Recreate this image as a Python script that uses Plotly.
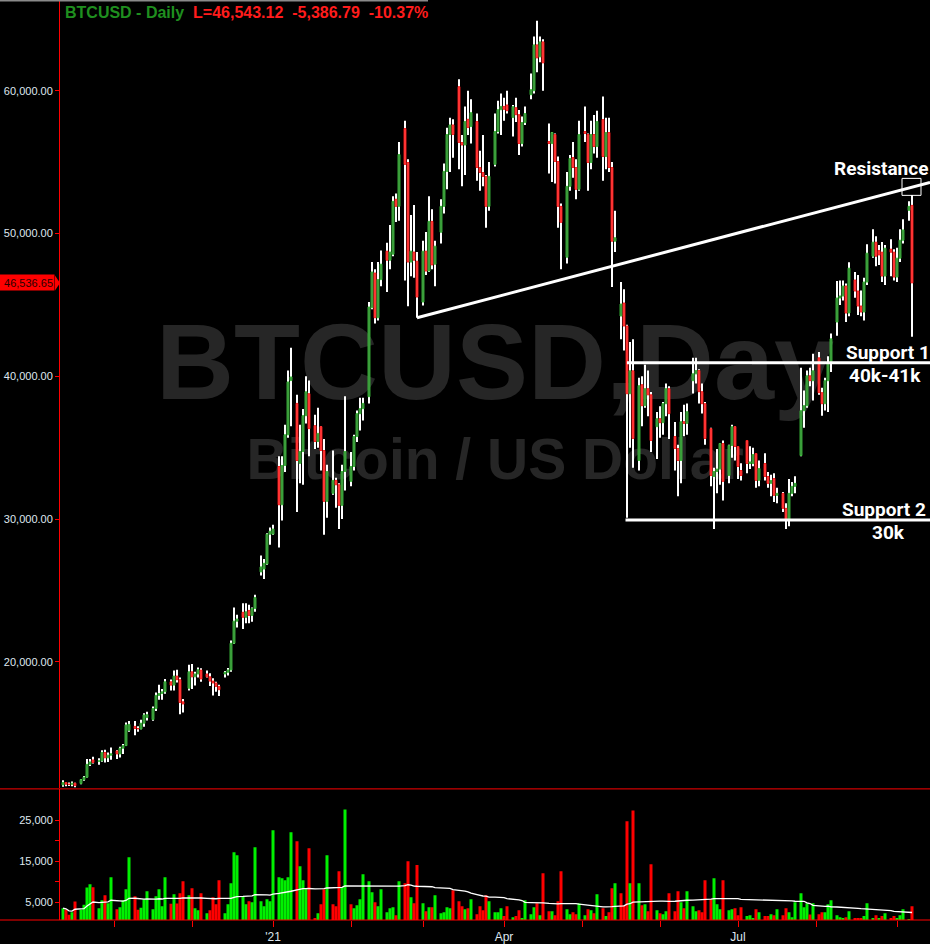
import pandas as pd
import plotly.graph_objects as go

# BTCUSD daily bars, weekdays only (Oct 12 2020 .. Sep 7 2021)
dates = pd.bdate_range("2020-10-12", "2021-09-07")

opens = [
    11380, 11550, 11430, 11420, 11500,   # Oct 12
    11480, 11750, 11920, 12820, 13130,   # Oct 19
    13030, 13070, 13650, 13280, 13460,   # Oct 26
    13760, 13550, 13950, 14130, 15200,   # Nov 2
    15480, 15330, 15300, 15700, 16100,   # Nov 9
    15960, 16730, 17650, 17780, 17900,   # Nov 16
    18600, 18370, 19000, 18750, 17200,   # Nov 23
    18150, 19300, 18950, 19150, 19420,   # Nov 30
    19150, 18950, 18650, 18520, 18280,   # Dec 7
    19150, 19270, 19430, 21300, 22850,   # Dec 14
    23470, 23120, 23600, 23250, 23730,   # Dec 21
    26300, 26500, 26860, 28940, 28950,   # Dec 28
    33680, 31000, 33750, 35900, 39700,   # Jan 4
    38100, 33900, 34730, 37240, 38780,   # Jan 11
    36540, 35430, 36470, 34800, 31240,   # Jan 18
    31800, 32710, 32400, 30960, 33330,   # Jan 25
    32640, 33680, 35780, 37380, 37730,   # Feb 1
    38570, 44800, 47230, 44100, 46770,   # Feb 8
    48760, 48130, 48550, 52400, 51900,   # Feb 15
    57350, 54970, 48000, 48700, 48060,   # Feb 22
    45200, 48760, 47370, 50850, 47850,   # Mar 1
    50090, 51900, 54350, 56930, 57600,   # Mar 8
    60280, 56370, 56200, 58000, 57490,   # Mar 15
    57840, 54620, 54270, 54000, 51900,   # Mar 22
    54840, 57140, 58670, 58900, 59000,   # Mar 29
    58120, 58810, 58320, 56300, 57770,   # Apr 5
    59720, 60000, 63210, 62370, 63420,   # Apr 12
    56440, 56300, 56930, 55040, 51900,   # Apr 19
    48340, 53300, 55320, 54620, 53090,   # Apr 26
    57140, 56930, 54970, 56930, 56090,   # May 3
    57980, 55390, 57070, 54620, 49460,   # May 10
    44220, 45130, 43520, 38780, 40380,   # May 17
    34100, 39410, 37940, 39130, 38700,   # May 24
    36470, 37030, 36750, 38080, 39130,   # May 31
    35780, 34940, 34100, 36820, 36700,   # Jun 7
    39690, 40170, 40400, 38920, 38080,   # Jun 14
    36330, 32980, 33330, 33500, 35290,   # Jun 21
    33050, 35150, 36470, 35080, 33400,   # Jun 28
    35500, 33890, 33890, 34590, 32710,   # Jul 5
    33890, 32980, 32500, 32840, 31660,   # Jul 12
    31800, 30750, 29910, 31800, 32290,   # Jul 19
    34450, 37590, 37940, 40030, 39690,   # Jul 26
    41290, 38850, 38080, 39690, 40900,   # Aug 2
    43800, 45480, 45620, 46320, 44430,   # Aug 9
    46740, 45970, 44920, 44500, 46600,   # Aug 16
    48410, 49390, 48800, 48690, 47020,   # Aug 23
    48900, 48690, 46950, 48270, 49530,   # Aug 30
    51620, 51970,                        # Sep 6
]

highs = [
    11700, 11560, 11550, 11620, 11540,
    11800, 12000, 13200, 13200, 13350,
    13250, 13800, 13850, 13650, 14000,
    13820, 14050, 14250, 15750, 15850,
    15850, 15480, 15950, 16400, 16500,
    16880, 17860, 18390, 18100, 18800,
    18760, 19400, 19450, 18900, 17400,
    19800, 19850, 19300, 19600, 19550,
    19400, 19200, 18850, 18600, 18400,
    19350, 19570, 21500, 23800, 23300,
    24100, 24100, 24000, 23800, 24700,
    27450, 27200, 29000, 29400, 29600,
    34400, 34400, 36600, 40400, 42000,
    38700, 36600, 37700, 40000, 39700,
    37300, 37800, 36500, 35600, 33800,
    34800, 32900, 32500, 33800, 38600,
    34700, 35900, 37600, 38500, 38500,
    45200, 48000, 47500, 48000, 48800,
    49350, 50600, 52600, 52800, 56400,
    57900, 55200, 51300, 52000, 48700,
    49500, 50100, 52600, 51700, 49500,
    52400, 54900, 57400, 58100, 58000,
    60800, 56900, 58900, 60000, 59400,
    58400, 55800, 56900, 54100, 55000,
    58400, 59300, 59800, 59500, 60000,
    59000, 59500, 58650, 58200, 58900,
    61200, 63800, 64900, 63800, 63600,
    57700, 57100, 57000, 55400, 52100,
    54300, 55500, 56400, 55200, 57900,
    58900, 57000, 57900, 58300, 58600,
    59600, 58100, 58100, 55000, 51600,
    46600, 46100, 43600, 42400, 42600,
    39900, 40000, 40800, 40400, 38900,
    37500, 37900, 38200, 39500, 39300,
    36800, 35200, 37500, 38000, 38100,
    41300, 41300, 40500, 39500, 38200,
    36400, 33600, 34900, 35300, 35500,
    35200, 36600, 36500, 35100, 33900,
    35500, 35100, 35000, 34600, 34100,
    34600, 33300, 33100, 33200, 32200,
    31900, 31100, 32800, 32600, 33000,
    40600, 39000, 40400, 40600, 41570,
    41700, 39200, 39900, 41400, 43000,
    46670, 46700, 46700, 46500, 47990,
    47300, 47100, 46000, 46900, 49250,
    50300, 49800, 49200, 49400, 49200,
    49600, 48900, 49000, 50300, 51000,
    52250, 52700,
]

lows = [
    11250, 11280, 11300, 11280, 11220,
    11420, 11680, 11900, 12700, 12880,
    12800, 13000, 12950, 12990, 13150,
    13200, 13300, 13550, 14100, 15100,
    14850, 15100, 15270, 15450, 15900,
    15870, 16560, 17350, 17350, 17760,
    18000, 18000, 18560, 16330, 16450,
    18000, 18100, 18350, 18900, 18600,
    18900, 18300, 17650, 17900, 17600,
    18900, 19050, 19300, 21250, 22400,
    22300, 22700, 22700, 22800, 23500,
    26050, 25800, 26800, 28200, 28900,
    28000, 29900, 33300, 35700, 36500,
    30500, 32500, 32400, 36700, 34400,
    34900, 35000, 33400, 28900, 30100,
    31700, 30800, 29300, 30000, 32000,
    32300, 33400, 35400, 36200, 36900,
    38100, 44700, 43700, 43900, 46300,
    45900, 47500, 48400, 50800, 50900,
    46700, 44900, 47000, 46900, 44100,
    44950, 47100, 47300, 47500, 46300,
    49300, 51400, 53100, 54300, 55300,
    54500, 53300, 54100, 56900, 56300,
    53700, 53000, 53300, 50400, 51600,
    54700, 57000, 56900, 57900, 58400,
    56800, 57800, 55500, 56100, 57600,
    59400, 59800, 61300, 62000, 60000,
    54200, 53600, 53500, 50400, 47500,
    47900, 53000, 53900, 52400, 53000,
    56400, 53000, 54500, 55600, 55300,
    53700, 54500, 54300, 46250, 48700,
    42600, 41800, 30100, 35000, 33600,
    33400, 36500, 37800, 37200, 34700,
    34200, 35700, 35900, 37200, 35600,
    33400, 31600, 32500, 35800, 35900,
    38800, 39500, 38100, 37400, 35200,
    32300, 29300, 31800, 32400, 31300,
    32500, 34300, 34100, 32800, 32700,
    33200, 33500, 33700, 32200, 32300,
    32700, 32200, 31600, 31200, 31100,
    30500, 29300, 29500, 31600, 31800,
    34400, 36400, 37800, 39300, 38300,
    38700, 37240, 37600, 37500, 40300,
    42830, 45000, 45300, 43800, 44200,
    45500, 44300, 44200, 43900, 46400,
    48300, 47700, 47800, 46600, 46400,
    47000, 46700, 46600, 48000, 49300,
    50900, 42760,
]

closes = [
    11550, 11430, 11420, 11500, 11330,
    11750, 11920, 12820, 12990, 12950,
    13070, 13650, 13280, 13460, 13560,
    13550, 13950, 14130, 15580, 15620,
    15330, 15300, 15700, 16280, 16300,
    16730, 17650, 17780, 17900, 18600,
    18370, 19000, 18750, 17150, 17050,
    19300, 18950, 19150, 19450, 18800,
    18950, 18650, 18520, 18280, 18050,
    19270, 19430, 21300, 22850, 23000,
    23120, 23500, 23250, 23730, 24500,
    26650, 26900, 28940, 29150, 29300,
    31000, 33750, 35900, 39600, 39950,
    34100, 34730, 37240, 38910, 36330,
    35430, 36000, 34800, 31240, 33330,
    32710, 32400, 30960, 33330, 34730,
    33680, 35780, 37380, 37730, 38100,
    44850, 47300, 44100, 46770, 47850,
    48130, 48700, 52250, 51900, 55530,
    54840, 48000, 48760, 48130, 45550,
    48760, 47370, 50850, 47800, 49110,
    51900, 54350, 56930, 57600, 56930,
    56370, 56200, 57840, 57420, 58460,
    54620, 54270, 54000, 51900, 54000,
    57140, 58670, 58900, 58700, 58600,
    58880, 58320, 56300, 57770, 58400,
    60070, 63210, 62300, 63420, 61950,
    56300, 57070, 55040, 51900, 50780,
    53300, 55250, 54620, 53090, 56930,
    57000, 54970, 56930, 56090, 57840,
    55390, 57070, 54620, 49460, 49700,
    45060, 43520, 38780, 40380, 35640,
    39340, 37940, 39130, 38700, 35500,
    37030, 36750, 38080, 39130, 37380,
    34940, 34100, 36820, 36700, 37520,
    40170, 40400, 38920, 38080, 35640,
    33050, 33330, 33500, 35290, 32640,
    35150, 36470, 35080, 33680, 33050,
    33890, 34000, 34520, 32710, 33540,
    32980, 32500, 32700, 31660, 31800,
    30750, 29910, 31800, 32290, 32500,
    37590, 37940, 40030, 39690, 40380,
    38850, 38080, 39690, 40900, 42620,
    45480, 45620, 46320, 44430, 47570,
    45970, 44920, 44500, 46600, 48620,
    49390, 48410, 48500, 47020, 48970,
    48690, 46950, 48270, 49530, 50250,
    51900, 46543,
]

volumes = [
    3540, 3200, 1900, 2560, 5170,
    3120, 4340, 8570, 9380, 8650,
    3540, 5490, 6710, 4760, 11100,
    3290, 3780, 5490, 8170, 15980,
    6460, 3120, 3620, 5740, 7690,
    3290, 6460, 8170, 4020, 11100,
    4600, 6950, 4680, 7200, 10130,
    6710, 8410, 3540, 3050, 7200,
    2320, 3050, 6220, 4510, 10370,
    2320, 4510, 9630, 17200, 16470,
    6460, 4510, 5240, 5000, 18420,
    5240, 4020, 5740, 5240, 22570,
    11100, 10860, 10370, 11100, 22080,
    19890, 13790, 10370, 8410, 18180,
    1100, 2320, 4510, 8170, 16470,
    4510, 4020, 12560, 8650, 27660,
    4510, 3540, 4270, 5740, 11840,
    10130, 7440, 5000, 4020, 8170,
    2560, 3540, 3780, 1830, 10130,
    9630, 15000, 6220, 4760, 14060,
    4760, 2800, 3780, 3780, 6710,
    2320, 2560, 3780, 3540, 7930,
    5240, 4020, 3290, 3540, 5740,
    2070, 4020, 3050, 6710, 5240,
    2560, 2560, 3540, 1590, 4020,
    1340, 1590, 3050, 1100, 5490,
    2070, 3780, 4760, 1830, 12090,
    2800, 2800, 1830, 5240, 12560,
    3290, 2070, 2560, 2070, 4760,
    1830, 3290, 3050, 2320, 6950,
    3540, 1590, 2560, 8410, 9630,
    7200, 4270, 24760, 9630, 27440,
    9630, 4270, 4510, 2800, 14300,
    3050, 2320, 2070, 2800, 7200,
    2800, 7690, 5000, 3540, 7690,
    4020, 2800, 3050, 2560, 10370,
    5730, 10860, 4510, 3290, 10370,
    3050, 3290, 3540, 1830, 3780,
    1590, 1830, 1100, 3290, 2560,
    1590, 1590, 2070, 1830, 3290,
    1830, 3540, 2560, 1340, 5000,
    7200, 3780, 4760, 2000, 4760,
    2070, 2560, 2560, 4510, 5490,
    1830, 1340, 1100, 1340, 2800,
    1100, 1100, 1100, 1590, 4760,
    1100, 1830, 1100, 1590, 2320,
    1100, 1590, 1100, 1830, 3290,
    860, 4020,
]

month_ticks = ["2020-11-01", "2020-12-01", "2021-01-01", "2021-02-01", "2021-03-01",
               "2021-04-01", "2021-05-02", "2021-06-01", "2021-07-01", "2021-08-01",
               "2021-09-01"]
month_labels = ["", "", "'21", "", "", "Apr", "", "", "Jul", "", ""]

price_ticks = [20000, 30000, 40000, 50000, 60000]
vol_ticks = [5000, 10000, 15000, 20000, 25000]
vol_labels = ["5,000", "", "15,000", "", "25,000"]

assert len(dates) == len(opens) == len(highs) == len(lows) == len(closes) == len(volumes)

RED = "#ff0000"
DAY_MS = 86400000
LABEL_FONT = dict(family="Liberation Sans, Arial, sans-serif", size=11, color="#dfe7ef")
NOTE_FONT = dict(family="Roboto, Liberation Sans, sans-serif", size=19, color="white")

body_top = [max(o, c) for o, c in zip(opens, closes)]
body_bot = [min(o, c) for o, c in zip(opens, closes)]

candle_up = [c >= o for o, c in zip(opens, closes)]
body_fill = ["#2e6b2e" if up else "#ff4a4a" for up in candle_up]
body_edge = ["#3cc03c" if up else "#ff1a1a" for up in candle_up]

vol_colors = []
for i, c in enumerate(closes):
    prev = closes[i - 1] if i else opens[0]
    vol_colors.append("#00f000" if c >= prev else "#ff0000")

vol_ma = pd.Series(volumes).rolling(50, min_periods=1).mean()

fig = go.Figure()

# white high-low wicks (thin bars keep them crisp), bodies on top
fig.add_trace(go.Bar(
    x=dates, y=[h - l for h, l in zip(highs, lows)], base=lows,
    width=DAY_MS / 3, marker=dict(color="white", line=dict(width=0)), hoverinfo="skip",
))
fig.add_trace(go.Bar(
    x=dates, y=[t - b for t, b in zip(body_top, body_bot)], base=body_bot,
    width=DAY_MS * 0.62,
    marker=dict(color=body_fill, line=dict(color=body_edge, width=1)),
    hoverinfo="skip",
))
fig.add_trace(go.Bar(x=dates, y=volumes, yaxis="y2", marker=dict(color=vol_colors, line=dict(width=0)),
                     width=DAY_MS, hoverinfo="skip"))
fig.add_trace(go.Scatter(x=dates, y=vol_ma, yaxis="y2", mode="lines",
                         line=dict(color="white", width=1.3), hoverinfo="skip"))

left = -60 / 870
shapes = [
    # watermark
    dict(type="rect", xref="paper", yref="y", x0=0, x1=1, y0=40750, y1=42750, layer="below",
         line=dict(width=0), fillcolor="rgba(0,0,0,0)",
         label=dict(text="<b>BTCUSD,Day</b>", textposition="middle center",
                    font=dict(family="Liberation Sans, Arial, sans-serif", size=108, color="#262626"))),
    dict(type="rect", xref="paper", yref="y", x0=0, x1=1, y0=33550, y1=35550, layer="below",
         line=dict(width=0), fillcolor="rgba(0,0,0,0)",
         label=dict(text="<b>Bitcoin / US Dollar</b>", textposition="middle center",
                    font=dict(family="Liberation Sans, Arial, sans-serif", size=57, color="#262626"))),
    # panel frame lines
    dict(type="line", xref="paper", yref="paper", x0=left, x1=1, y0=0.1425, y1=0.1425,
         line=dict(color=RED, width=1)),
    dict(type="line", xref="paper", yref="paper", x0=left, x1=1, y0=0, y1=0,
         line=dict(color=RED, width=1)),
    dict(type="line", xref="paper", yref="paper", x0=left, x1=368 / 870, y0=1, y1=1,
         line=dict(color="#8a8a8a", width=3)),
    # trend lines
    dict(type="line", xref="x", yref="y", x0="2021-02-26", y0=44100, x1="2021-09-14", y1=53580,
         line=dict(color="white", width=3)),
    dict(type="line", xref="x", yref="y", x0="2021-05-19", y0=40950, x1="2021-09-14", y1=40950,
         line=dict(color="white", width=3)),
    dict(type="line", xref="x", yref="y", x0="2021-05-18 12:00", y0=29930, x1="2021-09-14", y1=29930,
         line=dict(color="white", width=3)),
    dict(type="rect", xref="x", yref="y", x0="2021-09-02 16:00", x1="2021-09-10", y0=52670, y1=53860,
         line=dict(color="white", width=1)),
    # last price tag pointer
    dict(type="path", xref="paper", yref="y", xsizemode="pixel", ysizemode="pixel",
         xanchor=0, yanchor=46536.65, path="M -5,7.5 L 0,0 L -5,-7.5 Z",
         fillcolor=RED, line=dict(width=0)),
]

annotations = [
    dict(xref="paper", yref="paper", x=3 / 870, y=1, xanchor="left", yanchor="top", yshift=-2,
         showarrow=False,
         text="<b><span style='color:#1f8f1f'>BTCUSD - Daily</span>&nbsp;&nbsp;"
              "<span style='color:#ff1c1c'>L=46,543.12&nbsp;&nbsp;-5,386.79&nbsp;&nbsp;-10.37%</span></b>",
         font=dict(family="Liberation Sans, Arial, sans-serif", size=16)),
    dict(xref="paper", yref="y", x=0, y=46536.65, xanchor="right", yanchor="middle", xshift=-5,
         showarrow=False, text="46,536.65", bgcolor=RED, borderpad=1, width=53, height=13,
         align="right", font=dict(family="Liberation Sans, Arial, sans-serif", size=11, color="#2a0000")),
]
for txt, px, price in [("Resistance", 880.5, 54555), ("Support 1", 887.5, 41640),
                       ("40k-41k", 885, 40035), ("Support 2", 884, 30680), ("30k", 888.5, 29075)]:
    annotations.append(dict(xref="paper", yref="y", x=(px - 60) / 870, y=price,
                            xanchor="center", yanchor="middle", showarrow=False,
                            text="<b>" + txt + "</b>", font=NOTE_FONT))

fig.update_layout(
    width=930, height=944,
    margin=dict(l=60, r=0, t=0, b=21),
    paper_bgcolor="black", plot_bgcolor="black",
    showlegend=False, barmode="overlay",
    xaxis=dict(type="date", range=["2020-10-11", "2021-09-14"],
               rangebreaks=[dict(bounds=["sat", "sun"])],
               anchor="y2",
               tickvals=month_ticks, ticktext=month_labels,
               ticks="outside", ticklen=6, tickcolor=RED, tickwidth=1,
               tickfont=dict(family="Liberation Sans, Arial, sans-serif", size=12, color="#dfe7ef"),
               showgrid=False, zeroline=False, showline=False),
    yaxis=dict(domain=[0.1430, 1], range=[11133, 66353], tickvals=price_ticks, tickformat=",.2f",
               ticks="outside", ticklen=4, tickcolor=RED, showline=True, linecolor=RED, linewidth=1,
               showgrid=False, zeroline=False, tickfont=LABEL_FONT),
    yaxis2=dict(domain=[0, 0.1419], range=[640, 32560], tickvals=vol_ticks, ticktext=vol_labels,
                ticks="outside", ticklen=4, tickcolor=RED, showline=True, linecolor=RED, linewidth=1,
                showgrid=False, zeroline=False, tickfont=LABEL_FONT),
    shapes=shapes, annotations=annotations,
)

fig.write_html("out.html", config={"displayModeBar": False},
               post_script="document.body.style.margin='0';document.body.style.overflow='hidden';")
